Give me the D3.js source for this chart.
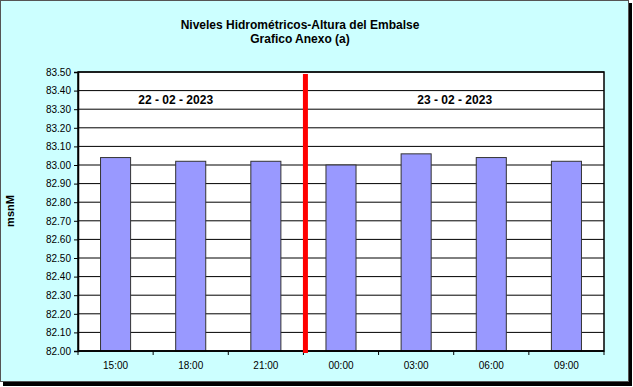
<!DOCTYPE html>
<html><head><meta charset="utf-8">
<script src="https://cdn.jsdelivr.net/npm/d3@7"></script>
<style>
html,body{margin:0;padding:0;background:#fff;}
svg{display:block;font-family:"Liberation Sans",Arial,sans-serif;}
</style></head>
<body>
<svg id="c" width="633" height="387"></svg>
<script>
const categories = ["15:00","18:00","21:00","00:00","03:00","06:00","09:00"];
const values = [83.04, 83.02, 83.02, 83.00, 83.06, 83.04, 83.02];
const yTicks = [82.00,82.10,82.20,82.30,82.40,82.50,82.60,82.70,82.80,82.90,83.00,83.10,83.20,83.30,83.40,83.50];
const titleLines = ["Niveles Hidrométricos-Altura del Embalse","Grafico Anexo (a)"];
const dayLabels = [{label:"22 - 02 - 2023", from:0, to:2},{label:"23 - 02 - 2023", from:3, to:6}];
const dividerAfter = 2; // red line between index 2 and 3
const yLabel = "msnM";

const svg = d3.select("#c");
// background + border
svg.append("rect").attr("x",3).attr("y",3).attr("width",629).attr("height",383).attr("fill","#000");
svg.append("rect").attr("x",0.5).attr("y",0.5).attr("width",628).attr("height",381)
  .attr("fill","#CCFFFF").attr("stroke","#555").attr("stroke-width",1);

const m = {l:78, r:604, t:72, b:351};
const x = d3.scaleBand().domain(categories).range([m.l, m.r]).paddingInner(0.6).paddingOuter(0.3);
const xb = d3.scaleBand().domain(categories).range([m.l, m.r]);
const y = d3.scaleLinear().domain([82.0, 83.5]).range([m.b, m.t]);

// plot area
svg.append("rect").attr("x",m.l).attr("y",m.t).attr("width",m.r-m.l).attr("height",m.b-m.t).attr("fill","#fff");

// gridlines
svg.append("g").selectAll("line").data(yTicks).join("line")
  .attr("x1",m.l).attr("x2",m.r).attr("y1",d=>y(d)).attr("y2",d=>y(d))
  .attr("stroke","#000").attr("stroke-width",1);

// bars
svg.append("g").selectAll("rect").data(values).join("rect")
  .attr("x",(d,i)=>x(categories[i])).attr("width",x.bandwidth())
  .attr("y",d=>y(d)).attr("height",d=>y(82.0)-y(d))
  .attr("fill","#9999FF").attr("stroke","#333").attr("stroke-width",1);

// plot border
svg.append("rect").attr("x",m.l).attr("y",m.t).attr("width",m.r-m.l).attr("height",m.b-m.t)
  .attr("fill","none").attr("stroke","#000").attr("stroke-width",1.5);

// y axis
const yAxis = d3.axisLeft(y).tickValues(yTicks).tickFormat(d3.format(".2f")).tickSize(4).tickPadding(3);
const gy = svg.append("g").attr("transform",`translate(${m.l},0)`).call(yAxis);
gy.select(".domain").attr("stroke","#000").attr("stroke-width",1.5);
gy.selectAll(".tick line").attr("stroke","#000");
gy.selectAll("text").attr("font-size","10px").attr("fill","#000").attr("font-family","'Liberation Sans',Arial,sans-serif");

// x axis: ticks at category boundaries
const gx = svg.append("g").attr("transform",`translate(0,${m.b})`);
gx.append("line").attr("x1",m.l).attr("x2",m.r).attr("stroke","#000").attr("stroke-width",1.5);
const bounds = categories.map(c=>xb(c)).concat([m.r]);
gx.selectAll("line.tk").data(bounds).join("line").attr("class","tk")
  .attr("x1",d=>d).attr("x2",d=>d).attr("y1",0).attr("y2",4).attr("stroke","#000");
gx.selectAll("text").data(categories).join("text")
  .attr("x",d=>xb(d)+xb.bandwidth()/2).attr("y",18)
  .attr("text-anchor","middle").attr("font-size","10px").attr("fill","#000").text(d=>d);

// day labels
svg.append("g").selectAll("text").data(dayLabels).join("text")
  .attr("x",d=>(xb(categories[d.from]) + xb(categories[d.to]) + xb.bandwidth())/2 + (d.from===0?-15:1))
  .attr("y",104).attr("text-anchor","middle").attr("font-size","12px").attr("font-weight","bold")
  .text(d=>d.label);

// red divider
const divX = xb(categories[dividerAfter]) + xb.bandwidth() + 2;
svg.append("line").attr("x1",divX).attr("x2",divX).attr("y1",m.t+2).attr("y2",m.b+2)
  .attr("stroke","#FF0000").attr("stroke-width",5);

// title
svg.append("g").selectAll("text").data(titleLines).join("text")
  .attr("x",300).attr("y",(d,i)=>29+i*14).attr("text-anchor","middle")
  .attr("font-size","12px").attr("font-weight","bold").text(d=>d);

// y label
svg.append("text").attr("transform","translate(14,211) rotate(-90)")
  .attr("text-anchor","middle").attr("font-size","11px").attr("font-weight","bold").text(yLabel);
</script>
</body></html>
